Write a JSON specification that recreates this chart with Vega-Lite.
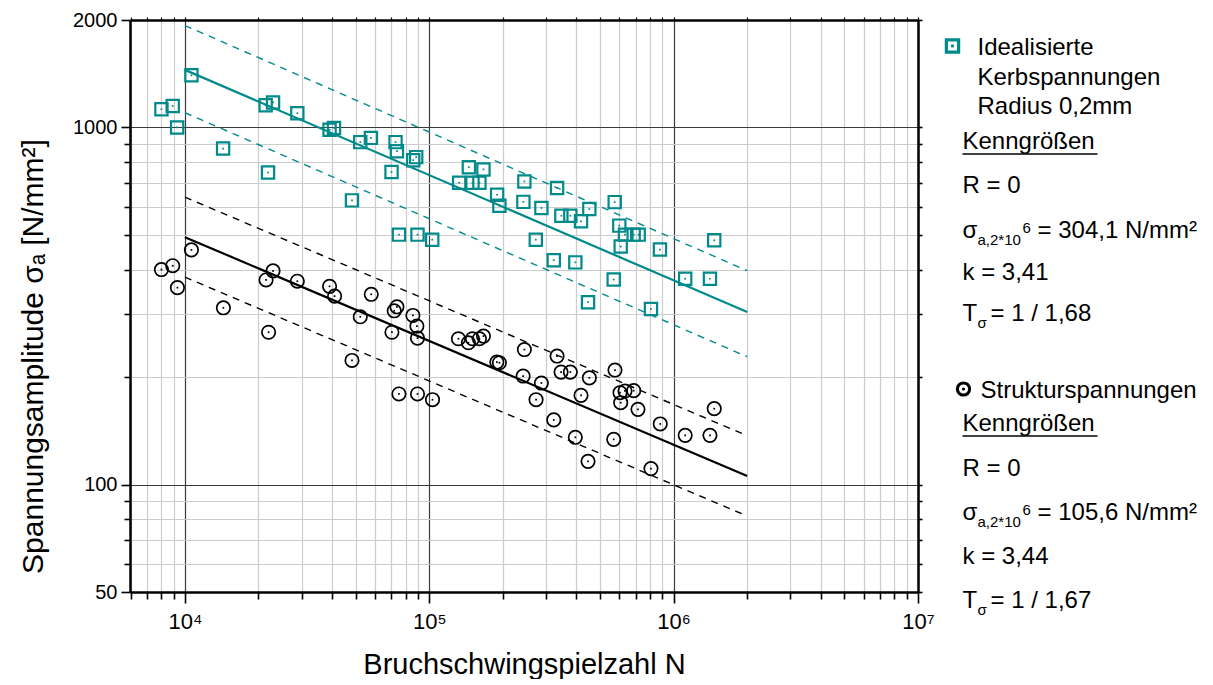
{
  "$schema": "https://vega.github.io/schema/vega-lite/v6.json",
  "background": "white",
  "padding": {"left": 18, "top": 10, "right": 0, "bottom": 0},
  "spacing": 0,
  "config": {
    "view": {"stroke": null},
    "font": "Liberation Sans",
    "axis": {"labelFont": "Liberation Sans", "titleFont": "Liberation Sans", "labelColor": "#000", "titleColor": "#000", "titleFontWeight": "normal"}
  },
  "datasets": {
    "pts": [
      {"g": "Kerb", "N": 8015, "S": 1125}, {"g": "Kerb", "N": 8914, "S": 1149}, {"g": "Kerb", "N": 9292, "S": 1000},
      {"g": "Kerb", "N": 10630, "S": 1400}, {"g": "Kerb", "N": 14330, "S": 873}, {"g": "Kerb", "N": 21400, "S": 1154},
      {"g": "Kerb", "N": 22940, "S": 1175}, {"g": "Kerb", "N": 28840, "S": 1096}, {"g": "Kerb", "N": 21880, "S": 748},
      {"g": "Kerb", "N": 39080, "S": 985}, {"g": "Kerb", "N": 40740, "S": 997}, {"g": "Kerb", "N": 48270, "S": 625},
      {"g": "Kerb", "N": 52190, "S": 910}, {"g": "Kerb", "N": 57710, "S": 935}, {"g": "Kerb", "N": 72750, "S": 910},
      {"g": "Kerb", "N": 73720, "S": 858}, {"g": "Kerb", "N": 70060, "S": 750}, {"g": "Kerb", "N": 85950, "S": 810},
      {"g": "Kerb", "N": 88400, "S": 826}, {"g": "Kerb", "N": 75130, "S": 501}, {"g": "Kerb", "N": 89500, "S": 501},
      {"g": "Kerb", "N": 102800, "S": 485}, {"g": "Kerb", "N": 145200, "S": 774}, {"g": "Kerb", "N": 166600, "S": 763},
      {"g": "Kerb", "N": 132500, "S": 700}, {"g": "Kerb", "N": 150200, "S": 700}, {"g": "Kerb", "N": 160400, "S": 700},
      {"g": "Kerb", "N": 189500, "S": 648}, {"g": "Kerb", "N": 245000, "S": 706}, {"g": "Kerb", "N": 333400, "S": 677},
      {"g": "Kerb", "N": 573900, "S": 618}, {"g": "Kerb", "N": 242700, "S": 619}, {"g": "Kerb", "N": 193600, "S": 604},
      {"g": "Kerb", "N": 287600, "S": 595}, {"g": "Kerb", "N": 451900, "S": 591}, {"g": "Kerb", "N": 347200, "S": 566},
      {"g": "Kerb", "N": 377800, "S": 566}, {"g": "Kerb", "N": 417800, "S": 546}, {"g": "Kerb", "N": 599300, "S": 531},
      {"g": "Kerb", "N": 632300, "S": 501}, {"g": "Kerb", "N": 686200, "S": 501}, {"g": "Kerb", "N": 719300, "S": 501},
      {"g": "Kerb", "N": 607200, "S": 464}, {"g": "Kerb", "N": 879000, "S": 455}, {"g": "Kerb", "N": 1466000, "S": 483},
      {"g": "Kerb", "N": 272800, "S": 485}, {"g": "Kerb", "N": 323200, "S": 425}, {"g": "Kerb", "N": 396000, "S": 419},
      {"g": "Kerb", "N": 568500, "S": 375}, {"g": "Kerb", "N": 1115000, "S": 377}, {"g": "Kerb", "N": 1408000, "S": 377},
      {"g": "Kerb", "N": 446300, "S": 324}, {"g": "Kerb", "N": 807700, "S": 310},
      {"g": "Struktur", "N": 8015, "S": 400}, {"g": "Struktur", "N": 8914, "S": 410}, {"g": "Struktur", "N": 9318, "S": 356},
      {"g": "Struktur", "N": 10630, "S": 454}, {"g": "Struktur", "N": 14370, "S": 312.6}, {"g": "Struktur", "N": 21480, "S": 374},
      {"g": "Struktur", "N": 22940, "S": 396.5}, {"g": "Struktur", "N": 28840, "S": 371}, {"g": "Struktur", "N": 22000, "S": 267},
      {"g": "Struktur", "N": 39080, "S": 359}, {"g": "Struktur", "N": 40970, "S": 337}, {"g": "Struktur", "N": 52190, "S": 295},
      {"g": "Struktur", "N": 57880, "S": 341}, {"g": "Struktur", "N": 71870, "S": 306.6}, {"g": "Struktur", "N": 73720, "S": 314.6},
      {"g": "Struktur", "N": 70330, "S": 267}, {"g": "Struktur", "N": 85700, "S": 297.5}, {"g": "Struktur", "N": 88980, "S": 277.8},
      {"g": "Struktur", "N": 89500, "S": 257}, {"g": "Struktur", "N": 48270, "S": 222.6}, {"g": "Struktur", "N": 75130, "S": 179.3},
      {"g": "Struktur", "N": 89500, "S": 179.3}, {"g": "Struktur", "N": 103100, "S": 172.8}, {"g": "Struktur", "N": 131600, "S": 256},
      {"g": "Struktur", "N": 144600, "S": 249.5}, {"g": "Struktur", "N": 150200, "S": 256}, {"g": "Struktur", "N": 160400, "S": 256},
      {"g": "Struktur", "N": 166600, "S": 260.4}, {"g": "Struktur", "N": 189000, "S": 220.3}, {"g": "Struktur", "N": 193600, "S": 219.3},
      {"g": "Struktur", "N": 245000, "S": 238.8}, {"g": "Struktur", "N": 333400, "S": 229}, {"g": "Struktur", "N": 346200, "S": 206.5},
      {"g": "Struktur", "N": 377800, "S": 206.5}, {"g": "Struktur", "N": 242100, "S": 201.3}, {"g": "Struktur", "N": 287600, "S": 192.4},
      {"g": "Struktur", "N": 451900, "S": 199}, {"g": "Struktur", "N": 575400, "S": 209.2}, {"g": "Struktur", "N": 417800, "S": 177.7},
      {"g": "Struktur", "N": 603300, "S": 180.8}, {"g": "Struktur", "N": 632300, "S": 182.8}, {"g": "Struktur", "N": 686200, "S": 183.2},
      {"g": "Struktur", "N": 273500, "S": 172.8}, {"g": "Struktur", "N": 607200, "S": 169.5}, {"g": "Struktur", "N": 714500, "S": 162.4},
      {"g": "Struktur", "N": 1466000, "S": 163.1}, {"g": "Struktur", "N": 323200, "S": 151.7}, {"g": "Struktur", "N": 881400, "S": 147.8},
      {"g": "Struktur", "N": 396000, "S": 135.6}, {"g": "Struktur", "N": 568500, "S": 133.8}, {"g": "Struktur", "N": 1115000, "S": 137.3},
      {"g": "Struktur", "N": 1408000, "S": 137.3}, {"g": "Struktur", "N": 446300, "S": 116.1}, {"g": "Struktur", "N": 807700, "S": 110.8}
    ],
    "lines": [
      {"id": "k_m", "g": "Kerb", "kind": "mean", "N": 10000, "S": 1450}, {"id": "k_m", "g": "Kerb", "kind": "mean", "N": 2000000, "S": 304.1},
      {"id": "k_u", "g": "Kerb", "kind": "band", "N": 10000, "S": 1930}, {"id": "k_u", "g": "Kerb", "kind": "band", "N": 2000000, "S": 397},
      {"id": "k_l", "g": "Kerb", "kind": "band", "N": 10000, "S": 1100}, {"id": "k_l", "g": "Kerb", "kind": "band", "N": 2000000, "S": 228},
      {"id": "s_m", "g": "Struktur", "kind": "mean", "N": 10000, "S": 493}, {"id": "s_m", "g": "Struktur", "kind": "mean", "N": 2000000, "S": 105.6},
      {"id": "s_u", "g": "Struktur", "kind": "band", "N": 10000, "S": 638}, {"id": "s_u", "g": "Struktur", "kind": "band", "N": 2000000, "S": 137},
      {"id": "s_l", "g": "Struktur", "kind": "band", "N": 10000, "S": 381}, {"id": "s_l", "g": "Struktur", "kind": "band", "N": 2000000, "S": 81.6}
    ],
    "leg": [
      {"kind": "sq", "col": 1.75, "row": 2.6},
      {"kind": "txt", "col": 4.25, "row": 2.8, "t": "Idealisierte"},
      {"kind": "txt", "col": 4.25, "row": 5.8, "t": "Kerbspannungen"},
      {"kind": "txt", "col": 4.25, "row": 8.7, "t": "Radius 0,2mm"},
      {"kind": "txt", "col": 2.75, "row": 12.2, "t": "Kenngrößen"},
      {"kind": "ul", "col": 2.75, "col2": 16.25, "row": 13.4},
      {"kind": "txt", "col": 2.75, "row": 16.6, "t": "R = 0"},
      {"kind": "txt", "col": 2.75, "row": 21.1, "t": "σ"},
      {"kind": "sub", "col": 2.75, "row": 21.1, "t": "a,2*10"},
      {"kind": "sup", "col": 2.75, "row": 21.1, "t": "6"},
      {"kind": "restS", "col": 2.75, "row": 21.1, "t": "= 304,1 N/mm²"},
      {"kind": "txt", "col": 2.75, "row": 25.3, "t": "k = 3,41"},
      {"kind": "txt", "col": 2.75, "row": 29.4, "t": "T"},
      {"kind": "sub", "col": 2.75, "row": 29.4, "t": "σ"},
      {"kind": "restT", "col": 2.75, "row": 29.4, "t": "= 1 / 1,68"},
      {"kind": "circ", "col": 2.85, "row": 36.9},
      {"kind": "txt", "col": 4.55, "row": 37.1, "t": "Strukturspannungen"},
      {"kind": "txt", "col": 2.75, "row": 40.4, "t": "Kenngrößen"},
      {"kind": "ul", "col": 2.75, "col2": 16.25, "row": 41.6},
      {"kind": "txt", "col": 2.75, "row": 44.9, "t": "R = 0"},
      {"kind": "txt", "col": 2.75, "row": 49.3, "t": "σ"},
      {"kind": "sub", "col": 2.75, "row": 49.3, "t": "a,2*10"},
      {"kind": "sup", "col": 2.75, "row": 49.3, "t": "6"},
      {"kind": "restS", "col": 2.75, "row": 49.3, "t": "= 105,6 N/mm²"},
      {"kind": "txt", "col": 2.75, "row": 53.7, "t": "k = 3,44"},
      {"kind": "txt", "col": 2.75, "row": 58.1, "t": "T"},
      {"kind": "sub", "col": 2.75, "row": 58.1, "t": "σ"},
      {"kind": "restT", "col": 2.75, "row": 58.1, "t": "= 1 / 1,67"}
    ]
  },
  "hconcat": [
    {
      "width": 788,
      "height": 572,
      "layer": [
        {
          "data": {"name": "lines"},
          "transform": [{"filter": "datum.kind == 'mean'"}],
          "mark": {"type": "line", "strokeWidth": 2.2},
          "encoding": {
            "x": {
              "field": "N", "type": "quantitative",
              "scale": {"type": "log", "domain": [5960, 10000000], "nice": false},
              "axis": {
                "orient": "bottom",
                "values": [6000, 7000, 8000, 9000, 10000, 20000, 30000, 40000, 50000, 60000, 70000, 80000, 90000, 100000, 200000, 300000, 400000, 500000, 600000, 700000, 800000, 900000, 1000000, 2000000, 3000000, 4000000, 5000000, 6000000, 7000000, 8000000, 9000000, 10000000],
                "labelExpr": "datum.value == 10000 ? '10⁴' : datum.value == 100000 ? '10⁵' : datum.value == 1000000 ? '10⁶' : datum.value == 10000000 ? '10⁷' : ''",
                "labelFontSize": 22, "labelPadding": 8, "labelOverlap": false, "labelFlush": false, "labelBound": false,
                "grid": true,
                "gridColor": {"condition": {"test": "datum.value == 10000 || datum.value == 100000 || datum.value == 1000000", "value": "#3a3a3a"}, "value": "#cccccc"},
                "gridWidth": 1.2,
                "tickColor": "#000", "tickWidth": 1.6,
                "tickSize": {"condition": {"test": "datum.value == 10000 || datum.value == 100000 || datum.value == 1000000 || datum.value == 10000000", "value": 11}, "value": 7},
                "domainColor": "#000", "domainWidth": 2.5,
                "title": "Bruchschwingspielzahl N", "titleFontSize": 29, "titlePadding": 18
              }
            },
            "y": {
              "field": "S", "type": "quantitative",
              "scale": {"type": "log", "domain": [50, 2000], "nice": false},
              "axis": {
                "orient": "left",
                "values": [50, 60, 70, 80, 90, 100, 200, 300, 400, 500, 600, 700, 800, 900, 1000, 2000],
                "labelExpr": "datum.value == 50 || datum.value == 100 || datum.value == 1000 || datum.value == 2000 ? '' + datum.value : ''",
                "labelFontSize": 20, "labelPadding": 4, "labelOverlap": false, "labelFlush": false, "labelBound": false,
                "grid": true,
                "gridColor": {"condition": {"test": "datum.value == 100 || datum.value == 1000", "value": "#3a3a3a"}, "value": "#cccccc"},
                "gridWidth": 1.2,
                "tickColor": "#000", "tickWidth": 1.6,
                "tickSize": {"condition": {"test": "datum.value == 50 || datum.value == 100 || datum.value == 1000 || datum.value == 2000", "value": 9}, "value": 6},
                "domainColor": "#000", "domainWidth": 2.5,
                "title": "Spannungsamplitude σₐ [N/mm²]", "titleFontSize": 30, "titlePadding": 24, "titleY": 336
              }
            },
            "detail": {"field": "id"},
            "color": {"field": "g", "type": "nominal", "scale": {"domain": ["Kerb", "Struktur"], "range": ["#008a8a", "#000000"]}, "legend": null}
          }
        },
        {
          "data": {"name": "lines"},
          "transform": [{"filter": "datum.kind == 'band'"}],
          "mark": {"type": "line", "strokeWidth": 1.4, "strokeDash": [7, 6]},
          "encoding": {
            "x": {"field": "N", "type": "quantitative", "scale": {"type": "log", "domain": [5960, 10000000], "nice": false}, "axis": null},
            "y": {"field": "S", "type": "quantitative", "scale": {"type": "log", "domain": [50, 2000], "nice": false}, "axis": null},
            "detail": {"field": "id"},
            "color": {"field": "g", "type": "nominal", "scale": {"domain": ["Kerb", "Struktur"], "range": ["#008a8a", "#000000"]}, "legend": null}
          }
        },
        {
          "data": {"name": "pts"},
          "transform": [{"filter": "datum.g == 'Kerb'"}],
          "mark": {"type": "point", "shape": "square", "filled": false, "size": 150, "strokeWidth": 2.2, "color": "#008a8a", "opacity": 1},
          "encoding": {
            "x": {"field": "N", "type": "quantitative", "scale": {"type": "log", "domain": [5960, 10000000], "nice": false}, "axis": null},
            "y": {"field": "S", "type": "quantitative", "scale": {"type": "log", "domain": [50, 2000], "nice": false}, "axis": null}
          }
        },
        {
          "data": {"name": "pts"},
          "transform": [{"filter": "datum.g == 'Struktur'"}],
          "mark": {"type": "point", "shape": "circle", "filled": false, "size": 180, "strokeWidth": 1.7, "color": "#000000", "opacity": 1},
          "encoding": {
            "x": {"field": "N", "type": "quantitative", "scale": {"type": "log", "domain": [5960, 10000000], "nice": false}, "axis": null},
            "y": {"field": "S", "type": "quantitative", "scale": {"type": "log", "domain": [50, 2000], "nice": false}, "axis": null}
          }
        },
        {
          "data": {"name": "pts"},
          "mark": {"type": "point", "shape": "square", "filled": true, "size": 3, "opacity": 1},
          "encoding": {
            "x": {
              "field": "N", "type": "quantitative", "scale": {"type": "log", "domain": [5960, 10000000], "nice": false},
              "axis": {
                "orient": "top", "values": [6000, 7000, 8000, 9000, 10000, 20000, 30000, 40000, 50000, 60000, 70000, 80000, 90000, 100000, 200000, 300000, 400000, 500000, 600000, 700000, 800000, 900000, 1000000, 2000000, 3000000, 4000000, 5000000, 6000000, 7000000, 8000000, 9000000, 10000000],
                "labels": false, "grid": false, "tickSize": 3, "tickColor": "#000", "tickWidth": 1.2, "domainColor": "#000", "domainWidth": 2.5, "title": null
              }
            },
            "y": {
              "field": "S", "type": "quantitative", "scale": {"type": "log", "domain": [50, 2000], "nice": false},
              "axis": {
                "orient": "right", "values": [50, 60, 70, 80, 90, 100, 200, 300, 400, 500, 600, 700, 800, 900, 1000, 2000],
                "labels": false, "grid": false, "tickSize": 4, "tickColor": "#000", "tickWidth": 1.6, "domainColor": "#000", "domainWidth": 2.5, "title": null
              }
            },
            "color": {"field": "g", "type": "nominal", "scale": {"domain": ["Kerb", "Struktur"], "range": ["#008a8a", "#000000"]}, "legend": null}
          }
        }
      ],
      "resolve": {"axis": {"x": "independent", "y": "independent"}}
    },
    {
      "width": 280,
      "height": 572,
      "data": {"name": "leg"},
      "layer": [
        {
          "transform": [{"filter": "datum.kind == 'ul'"}],
          "mark": {"type": "rule", "strokeWidth": 1.5, "color": "#000"},
          "encoding": {
            "x": {"field": "col", "type": "quantitative", "scale": {"domain": [0, 28]}, "axis": null},
            "x2": {"field": "col2"},
            "y": {"field": "row", "type": "quantitative", "scale": {"domain": [0, 57.2], "reverse": true}, "axis": null}
          }
        },
        {
          "transform": [{"filter": "datum.kind == 'txt'"}],
          "mark": {"type": "text", "fontSize": 24, "align": "left", "baseline": "middle", "color": "#000"},
          "encoding": {
            "x": {"field": "col", "type": "quantitative", "scale": {"domain": [0, 28]}, "axis": null},
            "y": {"field": "row", "type": "quantitative", "scale": {"domain": [0, 57.2], "reverse": true}, "axis": null},
            "text": {"field": "t"}
          }
        },
        {
          "transform": [{"filter": "datum.kind == 'sub'"}],
          "mark": {"type": "text", "fontSize": 15, "align": "left", "baseline": "middle", "dx": 15, "dy": 8.7, "color": "#000"},
          "encoding": {
            "x": {"field": "col", "type": "quantitative", "scale": {"domain": [0, 28]}, "axis": null},
            "y": {"field": "row", "type": "quantitative", "scale": {"domain": [0, 57.2], "reverse": true}, "axis": null},
            "text": {"field": "t"}
          }
        },
        {
          "transform": [{"filter": "datum.kind == 'sup'"}],
          "mark": {"type": "text", "fontSize": 15, "align": "left", "baseline": "middle", "dx": 60, "dy": -3.3, "color": "#000"},
          "encoding": {
            "x": {"field": "col", "type": "quantitative", "scale": {"domain": [0, 28]}, "axis": null},
            "y": {"field": "row", "type": "quantitative", "scale": {"domain": [0, 57.2], "reverse": true}, "axis": null},
            "text": {"field": "t"}
          }
        },
        {
          "transform": [{"filter": "datum.kind == 'restS'"}],
          "mark": {"type": "text", "fontSize": 24, "align": "left", "baseline": "middle", "dx": 75, "color": "#000"},
          "encoding": {
            "x": {"field": "col", "type": "quantitative", "scale": {"domain": [0, 28]}, "axis": null},
            "y": {"field": "row", "type": "quantitative", "scale": {"domain": [0, 57.2], "reverse": true}, "axis": null},
            "text": {"field": "t"}
          }
        },
        {
          "transform": [{"filter": "datum.kind == 'restT'"}],
          "mark": {"type": "text", "fontSize": 24, "align": "left", "baseline": "middle", "dx": 28, "color": "#000"},
          "encoding": {
            "x": {"field": "col", "type": "quantitative", "scale": {"domain": [0, 28]}, "axis": null},
            "y": {"field": "row", "type": "quantitative", "scale": {"domain": [0, 57.2], "reverse": true}, "axis": null},
            "text": {"field": "t"}
          }
        },
        {
          "transform": [{"filter": "datum.kind == 'sq'"}],
          "mark": {"type": "point", "shape": "square", "filled": false, "size": 150, "strokeWidth": 3.2, "color": "#008a8a", "opacity": 1},
          "encoding": {
            "x": {"field": "col", "type": "quantitative", "scale": {"domain": [0, 28]}, "axis": null},
            "y": {"field": "row", "type": "quantitative", "scale": {"domain": [0, 57.2], "reverse": true}, "axis": null}
          }
        },
        {
          "transform": [{"filter": "datum.kind == 'sq'"}],
          "mark": {"type": "point", "shape": "square", "filled": true, "size": 8, "color": "#008a8a", "opacity": 1},
          "encoding": {
            "x": {"field": "col", "type": "quantitative", "scale": {"domain": [0, 28]}, "axis": null},
            "y": {"field": "row", "type": "quantitative", "scale": {"domain": [0, 57.2], "reverse": true}, "axis": null}
          }
        },
        {
          "transform": [{"filter": "datum.kind == 'circ'"}],
          "mark": {"type": "point", "shape": "circle", "filled": false, "size": 150, "strokeWidth": 3, "color": "#000", "opacity": 1},
          "encoding": {
            "x": {"field": "col", "type": "quantitative", "scale": {"domain": [0, 28]}, "axis": null},
            "y": {"field": "row", "type": "quantitative", "scale": {"domain": [0, 57.2], "reverse": true}, "axis": null}
          }
        },
        {
          "transform": [{"filter": "datum.kind == 'circ'"}],
          "mark": {"type": "point", "shape": "circle", "filled": true, "size": 10, "color": "#000", "opacity": 1},
          "encoding": {
            "x": {"field": "col", "type": "quantitative", "scale": {"domain": [0, 28]}, "axis": null},
            "y": {"field": "row", "type": "quantitative", "scale": {"domain": [0, 57.2], "reverse": true}, "axis": null}
          }
        }
      ]
    }
  ]
}
